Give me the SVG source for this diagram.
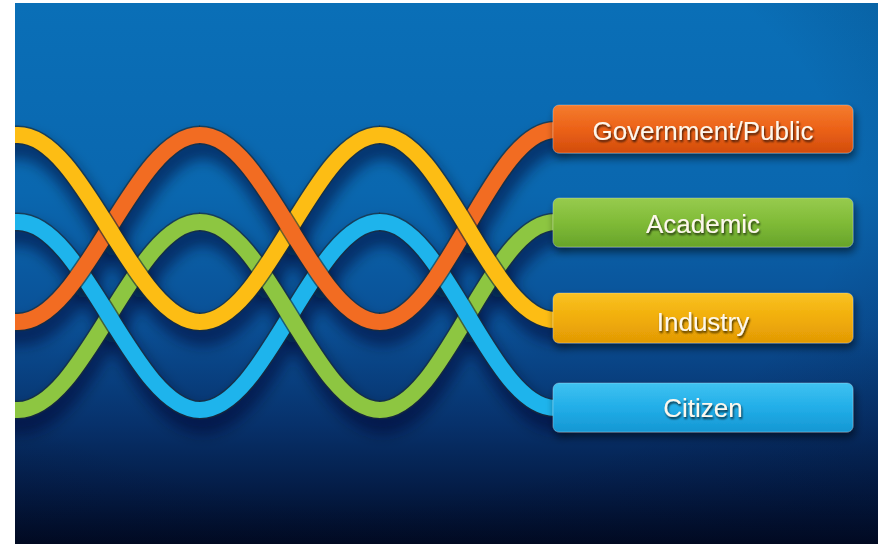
<svg xmlns="http://www.w3.org/2000/svg" width="885" height="544" viewBox="0 0 885 544">
<defs>
<linearGradient id="bg" x1="0" y1="0" x2="0" y2="1">
<stop offset="0" stop-color="#0a6fb7"/>
<stop offset="0.35" stop-color="#0a67af"/>
<stop offset="0.6" stop-color="#0a4f95"/>
<stop offset="0.78" stop-color="#07316b"/>
<stop offset="0.9" stop-color="#041c46"/>
<stop offset="1" stop-color="#010a22"/>
</linearGradient>
<radialGradient id="vig" cx="0.4" cy="0.35" r="0.8">
<stop offset="0.7" stop-color="#000820" stop-opacity="0"/>
<stop offset="1" stop-color="#000820" stop-opacity="0.2"/>
</radialGradient>
<linearGradient id="gOrange" x1="0" y1="0" x2="0" y2="1">
<stop offset="0" stop-color="#f47c2e"/>
<stop offset="0.5" stop-color="#ec6218"/>
<stop offset="1" stop-color="#d24c0c"/>
</linearGradient>
<linearGradient id="gGreen" x1="0" y1="0" x2="0" y2="1">
<stop offset="0" stop-color="#97cb4e"/>
<stop offset="0.5" stop-color="#80bb37"/>
<stop offset="1" stop-color="#67a42a"/>
</linearGradient>
<linearGradient id="gYellow" x1="0" y1="0" x2="0" y2="1">
<stop offset="0" stop-color="#f9c224"/>
<stop offset="0.5" stop-color="#f1ae09"/>
<stop offset="1" stop-color="#e29905"/>
</linearGradient>
<linearGradient id="gCyan" x1="0" y1="0" x2="0" y2="1">
<stop offset="0" stop-color="#3fc2f1"/>
<stop offset="0.5" stop-color="#22aee8"/>
<stop offset="1" stop-color="#1597d3"/>
</linearGradient>
<filter id="blur" x="-20%" y="-20%" width="140%" height="140%">
<feGaussianBlur stdDeviation="7"/>
</filter>
<filter id="boxShadow" x="-10%" y="-30%" width="120%" height="170%">
<feGaussianBlur in="SourceAlpha" stdDeviation="4"/>
<feOffset dx="2" dy="5" result="b"/>
<feComponentTransfer><feFuncA type="linear" slope="0.55"/></feComponentTransfer>
<feMerge><feMergeNode/><feMergeNode in="SourceGraphic"/></feMerge>
</filter>
<filter id="txtShadow" x="-10%" y="-30%" width="120%" height="170%">
<feGaussianBlur in="SourceAlpha" stdDeviation="1"/>
<feOffset dx="1.2" dy="1.8"/>
<feComponentTransfer><feFuncA type="linear" slope="0.75"/></feComponentTransfer>
<feMerge><feMergeNode/><feMergeNode in="SourceGraphic"/></feMerge>
</filter>
<clipPath id="frame"><rect x="15" y="3" width="863" height="541"/></clipPath>
</defs>
<style>
.shadow{fill:none;stroke:#000a28;stroke-width:24;stroke-opacity:0.5}
.ol{fill:none;stroke:#1d2d36;stroke-opacity:0.65;stroke-width:19}
.s{fill:none;stroke-width:16}
.o{stroke:#f26c22}
.y{stroke:#fdbd14}
.c{stroke:#1eb4ec}
.g{stroke:#8dc641}
.box{stroke:#ffffff;stroke-opacity:0.25;stroke-width:1}
.lbl{font-family:"Liberation Sans",Arial,sans-serif;font-size:26px;fill:#fdf7ec;text-anchor:middle}
</style>
<rect x="0" y="0" width="885" height="544" fill="#ffffff"/>
<g clip-path="url(#frame)">
<rect x="15" y="3" width="863" height="541" fill="url(#bg)"/>
<rect x="15" y="3" width="863" height="541" fill="url(#vig)"/>

<g id="connectors">
<g id="shadows" filter="url(#blur)" transform="translate(3,12)">
<path class="shadow" d="M -10 322 L 18 322 C 84 322 134 135 200 135 C 266 135 314 322 380 322 C 444 322 491 130 555 130 L 562 130"/>
<path class="shadow" d="M -10 135 L 18 135 C 84 135 134 322 200 322 C 266 322 314 135 380 135 C 444 135 491 320 555 320 L 562 320"/>
<path class="shadow" d="M -10 222 L 18 222 C 84 222 134 410 200 410 C 266 410 314 222 380 222 C 444 222 491 408 555 408 L 562 408"/>
<path class="shadow" d="M -10 410 L 18 410 C 84 410 134 222 200 222 C 266 222 314 410 380 410 C 444 410 491 222 555 222 L 562 222"/>
</g>

<g id="region1">
<path class="ol" d="M -10 410 L 18 410 C 84 410 134 222 200 222"/>
<path class="s g" d="M -10 410 L 18 410 C 84 410 134 222 200 222"/>
<path class="ol" d="M -10 222 L 18 222 C 84 222 134 410 200 410"/>
<path class="s c" d="M -10 222 L 18 222 C 84 222 134 410 200 410"/>
<path class="ol" d="M -10 322 L 18 322 C 84 322 134 135 200 135"/>
<path class="s o" d="M -10 322 L 18 322 C 84 322 134 135 200 135"/>
<path class="ol" d="M -10 135 L 18 135 C 84 135 134 322 200 322"/>
<path class="s y" d="M -10 135 L 18 135 C 84 135 134 322 200 322"/>
</g>
<g id="region2">
<path class="ol" d="M 199 410 L 200 410 C 266 410 314 222 380 222"/>
<path class="s c" d="M 199 410 L 200 410 C 266 410 314 222 380 222"/>
<path class="ol" d="M 199 222 L 200 222 C 266 222 314 410 380 410"/>
<path class="s g" d="M 199 222 L 200 222 C 266 222 314 410 380 410"/>
<path class="ol" d="M 199 322 L 200 322 C 266 322 314 135 380 135"/>
<path class="s y" d="M 199 322 L 200 322 C 266 322 314 135 380 135"/>
<path class="ol" d="M 199 135 L 200 135 C 266 135 314 322 380 322"/>
<path class="s o" d="M 199 135 L 200 135 C 266 135 314 322 380 322"/>
</g>
<g id="region3">
<path class="ol" d="M 379 410 L 380 410 C 444 410 491 222 555 222 L 562 222"/>
<path class="s g" d="M 379 410 L 380 410 C 444 410 491 222 555 222 L 562 222"/>
<path class="ol" d="M 379 222 L 380 222 C 444 222 491 408 555 408 L 562 408"/>
<path class="s c" d="M 379 222 L 380 222 C 444 222 491 408 555 408 L 562 408"/>
<path class="ol" d="M 379 322 L 380 322 C 444 322 491 130 555 130 L 562 130"/>
<path class="s o" d="M 379 322 L 380 322 C 444 322 491 130 555 130 L 562 130"/>
<path class="ol" d="M 379 135 L 380 135 C 444 135 491 320 555 320 L 562 320"/>
<path class="s y" d="M 379 135 L 380 135 C 444 135 491 320 555 320 L 562 320"/>
</g>
</g>

<g id="node-government" filter="url(#boxShadow)">
<rect class="box" x="553" y="105" width="300" height="48" rx="6" fill="url(#gOrange)"/>
<text class="lbl" x="703" y="140" filter="url(#txtShadow)">Government/Public</text>
</g>
<g id="node-academic" filter="url(#boxShadow)">
<rect class="box" x="553" y="198" width="300" height="49" rx="6" fill="url(#gGreen)"/>
<text class="lbl" x="703" y="233" filter="url(#txtShadow)">Academic</text>
</g>
<g id="node-industry" filter="url(#boxShadow)">
<rect class="box" x="553" y="293" width="300" height="50" rx="6" fill="url(#gYellow)"/>
<text class="lbl" x="703" y="331" filter="url(#txtShadow)">Industry</text>
</g>
<g id="node-citizen" filter="url(#boxShadow)">
<rect class="box" x="553" y="383" width="300" height="49" rx="6" fill="url(#gCyan)"/>
<text class="lbl" x="703" y="417" filter="url(#txtShadow)">Citizen</text>
</g>
</g>
</svg>
